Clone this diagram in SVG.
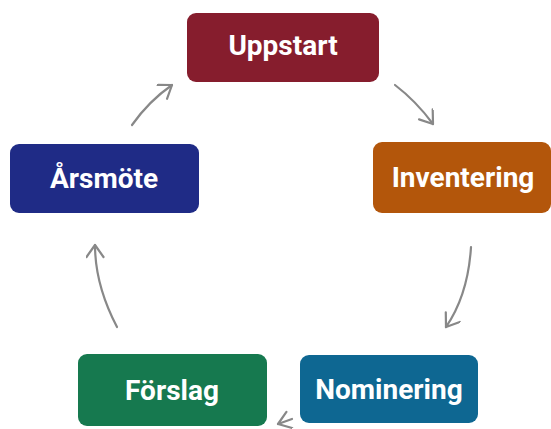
<svg xmlns="http://www.w3.org/2000/svg" width="551" height="429" viewBox="0 0 551 429">
<defs>
<style>
.box{stroke:none}
.lbl{font-family:Roboto,"Liberation Sans",sans-serif;font-weight:700;font-size:28px;fill:#ffffff;text-anchor:middle}
.conn{fill:none;stroke:#888888;stroke-width:2.2;stroke-linecap:round}
</style>
<marker id="arr" markerUnits="userSpaceOnUse" markerWidth="22" markerHeight="22" refX="15" refY="9" orient="auto">
<path d="M3,0.5 L15,9 L3,17.5" fill="none" stroke="#888888" stroke-width="2.2" stroke-linecap="round" stroke-linejoin="round"/>
</marker>
</defs>
<rect width="551" height="429" fill="#ffffff"/>
<g id="connectors">
<path class="conn" d="M395,85 Q416,101 433,124" marker-end="url(#arr)"/>
<path class="conn" d="M471,247 Q468,295 446,327" marker-end="url(#arr)"/>
<path class="conn" d="M292,419 L278,424" marker-end="url(#arr)"/>
<path class="conn" d="M117,327 Q95,285 95,245" marker-end="url(#arr)"/>
<path class="conn" d="M132,125 Q149,101 172,85" marker-end="url(#arr)"/>
</g>
<g id="uppstart">
<rect class="box" x="187" y="13" width="192" height="69" rx="9" fill="#861d2d"/>
<text class="lbl" x="283" y="55">Uppstart</text>
</g>
<g id="inventering">
<rect class="box" x="373" y="142" width="178" height="71" rx="9" fill="#b3560b"/>
<text class="lbl" x="463" y="187">Inventering</text>
</g>
<g id="nominering">
<rect class="box" x="300" y="355" width="178" height="68" rx="9" fill="#0e6792"/>
<text class="lbl" x="389" y="399">Nominering</text>
</g>
<g id="forslag">
<rect class="box" x="78" y="354" width="189" height="72" rx="9" fill="#16794f"/>
<text class="lbl" x="172" y="400">Förslag</text>
</g>
<g id="arsmote">
<rect class="box" x="10" y="144" width="189" height="69" rx="9" fill="#1f2b86"/>
<text class="lbl" x="104" y="188">Årsmöte</text>
</g>
</svg>
